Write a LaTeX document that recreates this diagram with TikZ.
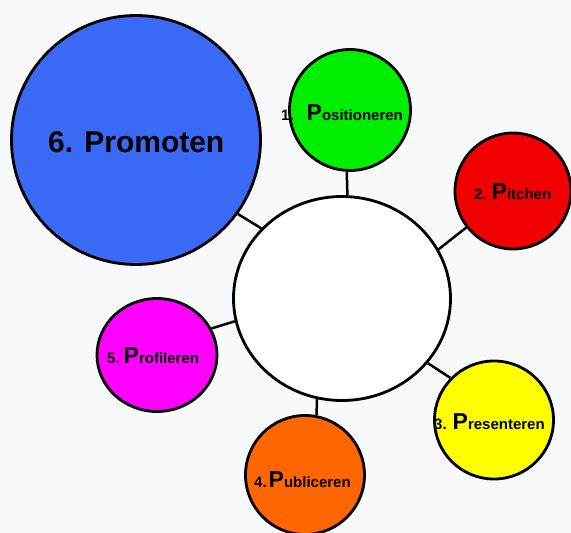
\documentclass[tikz,border=0pt]{standalone}
\usepackage{fontspec}
\setmainfont{Liberation Sans}
\usetikzlibrary{shapes.geometric}
\definecolor{bg}{RGB}{248,249,250}
\definecolor{cblue}{RGB}{58,106,245}
\definecolor{cgreen}{RGB}{0,238,0}
\definecolor{cred}{RGB}{240,0,0}
\definecolor{cyellow}{RGB}{255,255,0}
\definecolor{corange}{RGB}{255,102,0}
\definecolor{cmagenta}{RGB}{255,0,255}
\newcommand{\plab}[3]{{\fontsize{15}{15}\selectfont\bfseries #1}\hspace{#3}{\fontsize{23}{23}\selectfont\bfseries P}{\fontsize{15}{15}\selectfont\bfseries #2}}
\begin{document}
\begin{tikzpicture}[x=1pt,y=-1pt,
  bubble/.style={ellipse,draw=black,line width=2.8pt,inner sep=0pt},
  conn/.style={draw=black,line width=2.5pt},
  lab/.style={anchor=base west,inner sep=0pt,text=black}]
\fill[bg] (0,0) rectangle (571,533);
\useasboundingbox (0,0) rectangle (571,533);
\node[bubble,fill=cblue,minimum width=249pt,minimum height=249pt] (blue) at (136,140) {};
\node[bubble,fill=cgreen,minimum width=121pt,minimum height=121pt] (green) at (350,110) {};
\node[bubble,fill=cred,minimum width=116pt,minimum height=116pt] (red) at (513,191) {};
\node[bubble,fill=white,minimum width=217pt,minimum height=204pt] (white) at (342,298.5) {};
\node[bubble,fill=cyellow,minimum width=119pt,minimum height=118pt] (yellow) at (494,420) {};
\node[bubble,fill=corange,minimum width=119pt,minimum height=119pt] (orange) at (305,475) {};
\node[bubble,fill=cmagenta,minimum width=120pt,minimum height=113pt] (magenta) at (157,355) {};
\path[conn] (blue.-36.6) -- (white.139);
\path[conn] (green.267) -- (white.87);
\path[conn] (red.218) -- (white.27);
\path[conn] (yellow.136) -- (white.-37);
\path[conn] (orange.79.6) -- (white.256.7);
\path[conn] (magenta.26) -- (white.192);
\node[lab] (t6) at (48,152) {\fontsize{30}{30}\selectfont\bfseries 6. Promoten};
\node[lab] (t1) at (281,120) {\plab{1.}{ositioneren}{13pt}};
\node[lab] (t2) at (474,199) {\plab{2.}{itchen}{5pt}};
\node[lab] (t3) at (434,429) {\plab{3.}{resenteren}{6pt}};
\node[lab] (t4) at (254,487) {\plab{4.}{ubliceren}{2pt}};
\node[lab] (t5) at (107,363) {\plab{5.}{rofileren}{4pt}};
\end{tikzpicture}
\end{document}
